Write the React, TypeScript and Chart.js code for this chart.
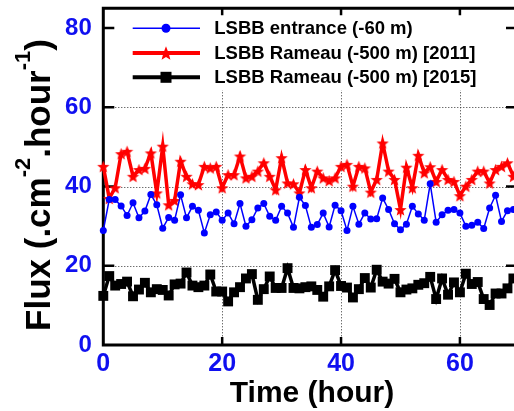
import React, { useEffect, useRef } from 'react';
import { Chart, registerables } from 'chart.js';

Chart.register(...registerables);

const hours = [0, 1, 2, 3, 4, 5, 6, 7, 8, 9, 10, 11, 12, 13, 14, 15, 16, 17, 18, 19, 20, 21, 22, 23, 24, 25, 26, 27, 28, 29, 30, 31, 32, 33, 34, 35, 36, 37, 38, 39, 40, 41, 42, 43, 44, 45, 46, 47, 48, 49, 50, 51, 52, 53, 54, 55, 56, 57, 58, 59, 60, 61, 62, 63, 64, 65, 66, 67, 68, 69];

const entrance = [28.9, 36.7, 36.7, 35.1, 32.7, 35.9, 32.1, 33.8, 38.0, 35.4, 29.5, 32.2, 31.5, 37.9, 32.1, 35.0, 34.0, 28.3, 32.9, 33.6, 31.5, 33.3, 30.6, 35.7, 30.0, 31.6, 34.6, 35.7, 32.5, 31.5, 35.0, 33.3, 29.7, 37.3, 35.2, 29.7, 30.4, 33.3, 29.8, 35.3, 33.9, 28.9, 35.0, 30.5, 33.3, 31.8, 31.9, 37.1, 34.2, 30.6, 29.1, 30.5, 35.0, 33.1, 31.5, 40.7, 31.0, 32.9, 34.0, 34.2, 33.3, 30.0, 30.2, 31.0, 29.4, 34.6, 37.8, 31.2, 33.9, 34.2];

const rameau2011 = [45.1, 37.0, 39.7, 48.3, 48.9, 42.6, 44.3, 44.6, 48.5, 38.4, 50.2, 35.4, 36.5, 46.4, 42.6, 40.7, 40.5, 45.1, 44.7, 45.1, 39.7, 43.0, 43.0, 47.7, 42.2, 42.6, 43.9, 46.0, 42.6, 39.2, 47.3, 40.9, 40.7, 38.4, 44.3, 39.7, 43.9, 42.2, 41.5, 42.2, 45.1, 45.6, 40.1, 45.1, 44.7, 38.6, 41.8, 51.0, 43.9, 41.8, 34.2, 44.9, 39.7, 47.9, 43.5, 45.0, 41.3, 44.3, 41.8, 41.3, 37.7, 40.1, 41.8, 43.9, 43.9, 40.9, 44.3, 45.1, 46.0, 42.6];

const rameau2015 = [12.4, 17.4, 15.0, 15.4, 16.0, 12.3, 14.0, 15.7, 13.3, 14.1, 13.9, 12.5, 15.3, 15.5, 18.3, 15.0, 14.6, 15.0, 17.8, 13.5, 13.5, 11.0, 13.3, 14.6, 16.8, 17.9, 11.4, 14.1, 17.3, 14.4, 14.4, 19.4, 14.4, 14.3, 14.6, 14.8, 13.9, 12.2, 14.8, 18.9, 14.9, 14.5, 12.0, 14.1, 16.9, 14.5, 19.0, 16.0, 15.5, 16.7, 13.3, 14.0, 14.3, 15.2, 15.6, 17.2, 11.6, 16.8, 12.7, 15.8, 13.3, 18.0, 15.4, 15.9, 11.6, 10.1, 13.0, 13.0, 14.3, 16.8];

const xTicks = [0, 20, 40, 60];
const yTicks = [0, 20, 40, 60, 80];
const legendLabels = ['LSBB entrance (-60 m)', 'LSBB Rameau (-500 m) [2011]', 'LSBB Rameau (-500 m) [2015]'];

const BLUE = '#0000ff';
const RED = '#ff0000';
const BLACK = '#000000';
const TICK_BLUE = '#1010f0';
const FONT = "'Liberation Sans', Arial, Helvetica, sans-serif";

function starPath(ctx: CanvasRenderingContext2D, cx: number, cy: number, R: number, r: number) {
  ctx.beginPath();
  for (let i = 0; i < 10; i++) {
    const rad = i % 2 === 0 ? R : r;
    const a = -Math.PI / 2 + (i * Math.PI) / 5;
    const px = cx + rad * Math.cos(a);
    const py = cy + rad * Math.sin(a);
    if (i === 0) ctx.moveTo(px, py);
    else ctx.lineTo(px, py);
  }
  ctx.closePath();
}

function makeStar(R: number, r: number, color: string) {
  const size = Math.ceil(R * 2 + 2);
  const c = document.createElement('canvas');
  c.width = size;
  c.height = size;
  const ctx = c.getContext('2d')!;
  ctx.fillStyle = color;
  starPath(ctx, size / 2, size / 2 + R * 0.1, R, r);
  ctx.fill();
  return c;
}

const zeroPad = (s: any) => {
  s.paddingTop = 0;
  s.paddingBottom = 0;
  s.paddingLeft = 0;
  s.paddingRight = 0;
};

const decorPlugin = {
  id: 'decor',
  beforeDatasetsDraw(chart: any) {
    const { ctx, chartArea: a, scales } = chart;
    const x = scales.x;
    const y = scales.y;
    ctx.save();
    // dotted grid
    ctx.strokeStyle = '#333';
    ctx.lineWidth = 1;
    ctx.setLineDash([1, 2]);
    ctx.beginPath();
    for (const v of yTicks.slice(1)) {
      const py = Math.round(y.getPixelForValue(v)) + 0.5;
      ctx.moveTo(a.left, py);
      ctx.lineTo(a.right, py);
    }
    for (const v of xTicks.slice(1)) {
      const px = Math.round(x.getPixelForValue(v)) + 0.5;
      ctx.moveTo(px, a.top);
      ctx.lineTo(px, a.bottom);
    }
    ctx.stroke();
    ctx.setLineDash([]);

    // legend box
    ctx.fillStyle = '#ffffff';
    ctx.fillRect(a.left + 2, a.top + 2, a.right - a.left, 80);

    // axis frame
    ctx.strokeStyle = BLACK;
    ctx.lineWidth = 3;
    ctx.beginPath();
    ctx.moveTo(a.left, a.top);
    ctx.lineTo(a.right + 3, a.top);
    ctx.moveTo(a.left, a.top - 1.5);
    ctx.lineTo(a.left, a.bottom + 1.5);
    ctx.moveTo(a.left - 1.5, a.bottom);
    ctx.lineTo(a.right + 3, a.bottom);
    ctx.stroke();

    // inward ticks
    ctx.lineWidth = 2.5;
    ctx.beginPath();
    for (const v of yTicks.slice(1)) {
      const py = y.getPixelForValue(v);
      ctx.moveTo(a.left, py);
      ctx.lineTo(a.left + 11, py);
      ctx.moveTo(a.right + 2, py);
      ctx.lineTo(a.right - 8, py);
    }
    for (const v of xTicks.slice(1)) {
      const px = x.getPixelForValue(v);
      ctx.moveTo(px, a.bottom);
      ctx.lineTo(px, a.bottom - 8);
      ctx.moveTo(px, a.top);
      ctx.lineTo(px, a.top + 7);
    }
    ctx.stroke();

    // legend entries
    const rows = [28.3, 53.0, 77.3];
    const lx0 = 132.7;
    const lx1 = 200;
    const mx = 166;
    ctx.font = `bold 18.5px ${FONT}`;
    ctx.textBaseline = 'middle';
    ctx.textAlign = 'left';
    rows.forEach((ry, i) => {
      const color = [BLUE, RED, BLACK][i];
      ctx.strokeStyle = color;
      ctx.lineWidth = i === 0 ? 1.5 : 4;
      ctx.beginPath();
      ctx.moveTo(lx0, ry);
      ctx.lineTo(lx1, ry);
      ctx.stroke();
      ctx.fillStyle = color;
      if (i === 0) {
        ctx.beginPath();
        ctx.arc(mx, ry, 4.5, 0, Math.PI * 2);
        ctx.fill();
      } else if (i === 1) {
        starPath(ctx, mx, ry + 0.8, 7.5, 3.2);
        ctx.fill();
      } else {
        ctx.fillRect(mx - 5.5, ry - 5.5, 11, 11);
      }
      ctx.fillStyle = BLACK;
      ctx.fillText(legendLabels[i], 214.3, ry + 1);
    });
    ctx.restore();
  },
  afterDraw(chart: any) {
    const { ctx } = chart;
    ctx.save();
    ctx.fillStyle = BLACK;
    // x title
    ctx.font = `bold 30px ${FONT}`;
    ctx.textAlign = 'center';
    ctx.textBaseline = 'alphabetic';
    ctx.fillText('Time (hour)', 312, 401.5);

    // y title with superscripts
    const mainFont = `bold 35px ${FONT}`;
    const supFont = `bold 22px ${FONT}`;
    const parts: [string, boolean][] = [
      ['Flux (.cm', false],
      ['-2', true],
      ['.hour', false],
      ['-1', true],
      [')', false],
    ];
    let total = 0;
    for (const [t, sup] of parts) {
      ctx.font = sup ? supFont : mainFont;
      total += ctx.measureText(t).width;
    }
    const cy = 185;
    const baseX = 50;
    ctx.translate(baseX, cy);
    ctx.rotate(-Math.PI / 2);
    ctx.textAlign = 'left';
    let cx = -total / 2;
    for (const [t, sup] of parts) {
      ctx.font = sup ? supFont : mainFont;
      ctx.fillText(t, cx, sup ? -20 : 0);
      cx += ctx.measureText(t).width;
    }
    ctx.restore();
  },
};

export default function App() {
  const canvasRef = useRef<HTMLCanvasElement | null>(null);

  useEffect(() => {
    const canvas = canvasRef.current;
    if (!canvas) return;
    const star = makeStar(6.5, 2.8, RED);
    const chart = new Chart(canvas, {
      type: 'line',
      data: {
        datasets: [
          {
            label: legendLabels[0],
            data: hours.map((h, i) => ({ x: h, y: entrance[i] })),
            borderColor: BLUE,
            backgroundColor: BLUE,
            borderWidth: 1.5,
            pointRadius: 3.5,
            pointBorderWidth: 0,
            pointBackgroundColor: BLUE,
            clip: false as any,
          },
          {
            label: legendLabels[1],
            data: hours.map((h, i) => ({ x: h, y: rameau2011[i] })),
            borderColor: RED,
            backgroundColor: RED,
            borderWidth: 3.5,
            pointStyle: star as any,
            pointRadius: 6,
            clip: false as any,
          },
          {
            label: legendLabels[2],
            data: hours.map((h, i) => ({ x: h, y: rameau2015[i] })),
            borderColor: BLACK,
            backgroundColor: BLACK,
            borderWidth: 3.5,
            pointStyle: 'rect',
            pointRadius: 7,
            pointBorderWidth: 0,
            pointBackgroundColor: BLACK,
            clip: false as any,
          },
        ],
      },
      options: {
        animation: false,
        responsive: false,
        maintainAspectRatio: false,
        layout: { autoPadding: false, padding: { top: 8.3, right: 0, left: 0, bottom: 0 } },
        plugins: {
          legend: { display: false },
          tooltip: { enabled: false },
        },
        scales: {
          x: {
            type: 'linear',
            min: 0,
            max: 69.1,
            grid: { display: false, drawTicks: false },
            border: { display: false },
            afterBuildTicks: (s: any) => {
              s.ticks = xTicks.map((v) => ({ value: v }));
            },
            afterFit: (s: any) => {
              s.height = 66;
              zeroPad(s);
            },
            ticks: {
              color: TICK_BLUE,
              font: { family: FONT, size: 25, weight: 'bold' },
              padding: 4,
              maxRotation: 0,
              autoSkip: false,
            },
          },
          y: {
            type: 'linear',
            min: 0,
            max: 85,
            grid: { display: false, drawTicks: false },
            border: { display: false },
            afterBuildTicks: (s: any) => {
              s.ticks = yTicks.map((v) => ({ value: v }));
            },
            afterFit: (s: any) => {
              s.width = 103.3;
              zeroPad(s);
            },
            ticks: {
              color: TICK_BLUE,
              font: { family: FONT, size: 24, weight: 'bold' },
              padding: 11.5,
              autoSkip: false,
            },
          },
        },
      },
      plugins: [decorPlugin],
    });
    return () => {
      chart.destroy();
    };
  }, []);

  return (
    <div style={{ position: 'absolute', left: 0, top: 0, width: 514, height: 411, background: '#fff' }}>
      <canvas ref={canvasRef} width={514} height={411} style={{ display: 'block', width: 514, height: 411 }} />
    </div>
  );
}
